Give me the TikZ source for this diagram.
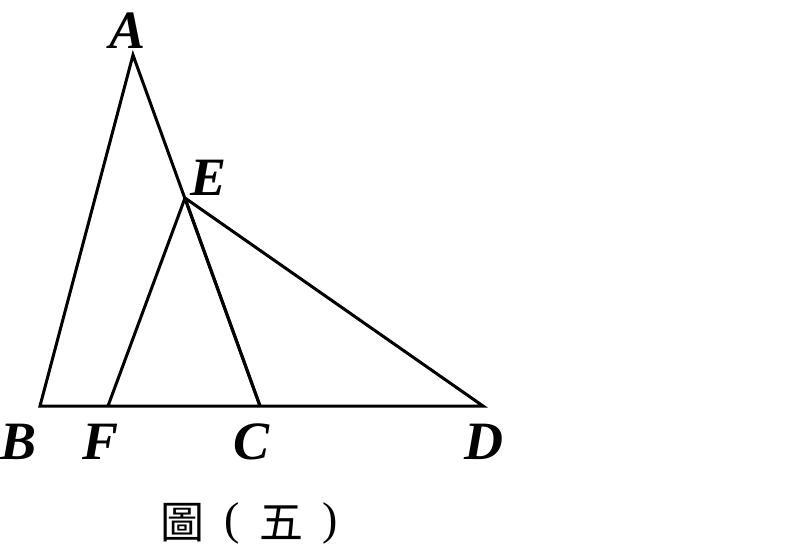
\documentclass[tikz,border=0pt]{standalone}
\usepackage{fontspec}
\setmainfont{Liberation Serif}
\newfontfamily\cjk{Noto Sans CJK TC}
\begin{document}
\begin{tikzpicture}[x=1pt,y=-1pt,
  seg/.style={line width=3pt,line join=miter},
  lbl/.style={font=\fontsize{54}{54}\selectfont\bfseries\itshape,inner sep=0pt},
  captxt/.style={font=\fontsize{44}{44}\selectfont,inner sep=0pt},
  parentxt/.style={font=\fontsize{46}{46}\selectfont,inner sep=0pt}]
\useasboundingbox (0,0) rectangle (794,548);
\coordinate (A) at (133,55);
\coordinate (B) at (40,406);
\coordinate (F) at (108,406);
\coordinate (C) at (260,406);
\coordinate (D) at (483,406);
\coordinate (E) at (185,198);
\draw[seg] (C) -- (A) -- (B) -- (D) -- (E) -- (F);
\draw[seg] (E) -- (C);
\node[lbl] (lA) at (128,31) {A};
\node[lbl] (lE) at (209,178) {E};
\node[lbl] (lB) at (19,442) {B};
\node[lbl] (lF) at (101,442) {F};
\node[lbl] (lC) at (252,442) {C};
\node[lbl] (lD) at (484,442) {D};
\node[captxt] (t1) at (182,523) {\cjk 圖};
\node[parentxt] (t2) at (232,523) {(};
\node[captxt] (t3) at (281,523) {\cjk 五};
\node[parentxt] (t4) at (330,523) {)};
\end{tikzpicture}
\end{document}
